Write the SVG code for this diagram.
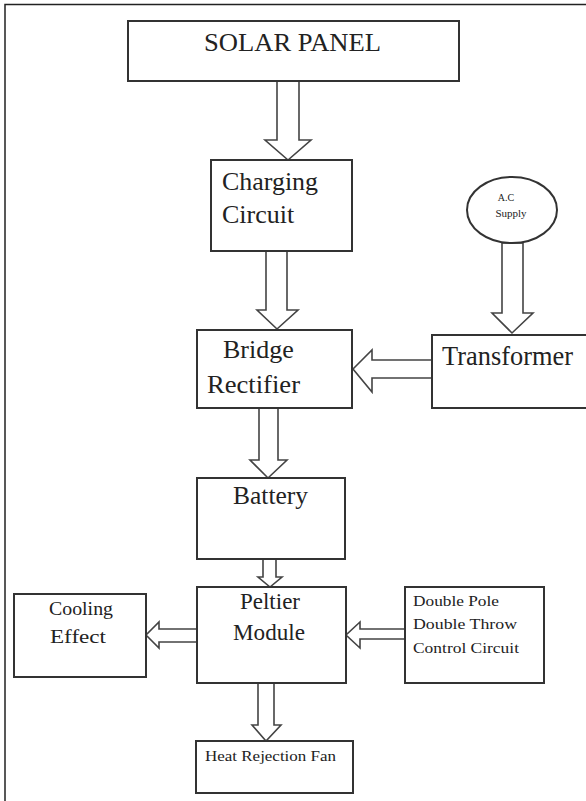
<svg xmlns="http://www.w3.org/2000/svg" width="586" height="801" viewBox="0 0 586 801">
<style>
.box{fill:#fff;stroke:#333;stroke-width:2}
.arr{fill:#fff;stroke:#444;stroke-width:1.6;stroke-linejoin:miter}
.frame{stroke:#222;stroke-width:1.5;fill:none}
text{font-family:"Liberation Serif","Times New Roman",serif;fill:#222}
</style>
<rect width="586" height="801" fill="#fff"/>
<path class="frame" d="M5,801 V4.5 H586"/>
<g id="connectors">
  <polygon class="arr" points="277,81 277,140 265,140 288,160 311,140 299,140 299,81"/>
  <polygon class="arr" points="266,251 266,310 257,310 277,329 298,310 287,310 287,251"/>
  <polygon class="arr" points="502,243 502,313 492,313 512,333 533,313 523,313 523,243"/>
  <polygon class="arr" points="432,360 372,360 372,350 353,369 372,392 372,378 432,378"/>
  <polygon class="arr" points="259,408 259,460 250,460 268,478 287,460 278,460 278,408"/>
  <polygon class="arr" points="263,558 263,577 258,577 270,587 282,577 276,577 276,558"/>
  <polygon class="arr" points="197,629 159,629 159,622 146,635 159,648 159,642 197,642"/>
  <polygon class="arr" points="405,629 360,629 360,622 346,635 360,648 360,639 405,639"/>
  <polygon class="arr" points="258,683 258,725 252,725 266,741 281,725 274,725 274,683"/>
</g>
<g id="solar-panel">
  <rect class="box" x="128" y="21" width="331" height="60"/>
  <text x="204" y="51" font-size="25" textLength="177" lengthAdjust="spacingAndGlyphs">SOLAR  PANEL</text>
</g>
<g id="charging-circuit">
  <rect class="box" x="211" y="160" width="141" height="91"/>
  <text x="222" y="190" font-size="26" textLength="96" lengthAdjust="spacingAndGlyphs">Charging</text>
  <text x="222" y="223" font-size="26">Circuit</text>
</g>
<g id="ac-supply">
  <ellipse class="box" cx="512" cy="210" rx="45" ry="33"/>
  <text x="506" y="201" font-size="10" text-anchor="middle">A.C</text>
  <text x="511" y="217" font-size="11" text-anchor="middle">Supply</text>
</g>
<g id="bridge-rectifier">
  <rect class="box" x="197" y="330" width="155" height="78"/>
  <text x="223" y="358" font-size="26">Bridge</text>
  <text x="207" y="393" font-size="26" textLength="93" lengthAdjust="spacingAndGlyphs">Rectifier</text>
</g>
<g id="transformer">
  <rect class="box" x="432" y="335" width="160" height="73"/>
  <text x="442" y="365" font-size="27" textLength="131" lengthAdjust="spacingAndGlyphs">Transformer</text>
</g>
<g id="battery">
  <rect class="box" x="197" y="478" width="148" height="81"/>
  <text x="233" y="504" font-size="25" textLength="75" lengthAdjust="spacingAndGlyphs">Battery</text>
</g>
<g id="peltier-module">
  <rect class="box" x="197" y="587" width="149" height="96"/>
  <text x="240" y="609" font-size="24" textLength="60" lengthAdjust="spacingAndGlyphs">Peltier</text>
  <text x="233" y="640" font-size="24" textLength="72" lengthAdjust="spacingAndGlyphs">Module</text>
</g>
<g id="cooling-effect">
  <rect class="box" x="14" y="594" width="132" height="83"/>
  <text x="49" y="615" font-size="19" textLength="64" lengthAdjust="spacingAndGlyphs">Cooling</text>
  <text x="50" y="643" font-size="19" textLength="56" lengthAdjust="spacingAndGlyphs">Effect</text>
</g>
<g id="dpdt-control">
  <rect class="box" x="405" y="587" width="139" height="96"/>
  <text x="413" y="606" font-size="15" textLength="86" lengthAdjust="spacingAndGlyphs">Double Pole</text>
  <text x="413" y="629" font-size="15" textLength="104" lengthAdjust="spacingAndGlyphs">Double Throw</text>
  <text x="413" y="653" font-size="15" textLength="106" lengthAdjust="spacingAndGlyphs">Control Circuit</text>
</g>
<g id="heat-rejection-fan">
  <rect class="box" x="196" y="741" width="157" height="52"/>
  <text x="205" y="761" font-size="15" textLength="131" lengthAdjust="spacingAndGlyphs">Heat Rejection Fan</text>
</g>
</svg>
